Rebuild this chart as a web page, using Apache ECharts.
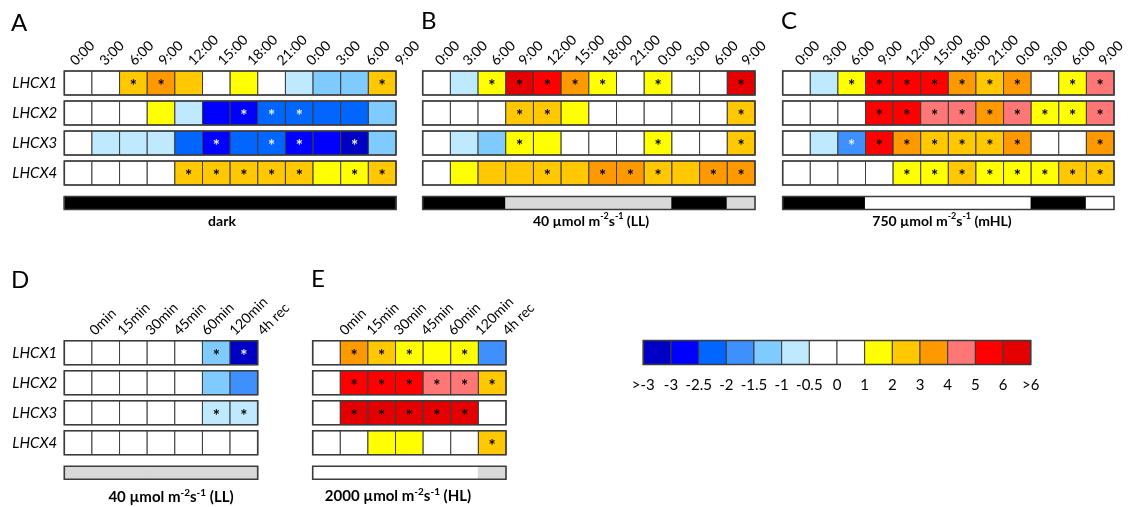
<!DOCTYPE html>
<html><head><meta charset="utf-8">
<script src="https://cdn.jsdelivr.net/npm/echarts@6/dist/echarts.min.js"></script>
<style>html,body{margin:0;padding:0;background:#fff}#c{width:1133px;height:507px}</style>
</head><body><div id="c"></div><script>
// ---------- DATA ----------
const genes = ['LHCX1','LHCX2','LHCX3','LHCX4'];
const timeLabels = ['0:00','3:00','6:00','9:00','12:00','15:00','18:00','21:00','0:00','3:00','6:00','9:00'];
const minLabels = ['0min','15min','30min','45min','60min','120min','4h rec'];

// estimated log2 fold changes (rows = genes)
const valuesA = [
  [0,0,2.5,3.5,2.5,0,1.5,0,-0.8,-1.3,-1.3,2.5],
  [0,0,0,1.5,-0.8,-2.8,-2.8,-2.3,-2.3,-2.3,-2.3,-1.3],
  [0,-0.8,-0.8,-0.8,-2.3,-2.8,-2.3,-2.3,-2.8,-2.8,-3.4,-1.3],
  [0,0,0,0,2.5,2.5,2.5,2.5,2.5,1.5,1.5,2.5]
];
const sigA = [
  [0,0,1,1,0,0,0,0,0,0,0,1],
  [0,0,0,0,0,0,1,1,1,0,0,0],
  [0,0,0,0,0,1,0,1,1,0,1,0],
  [0,0,0,0,1,1,1,1,1,0,1,1]
];
const valuesB = [
  [0,-0.8,1.5,6.5,5.5,3.5,1.5,0,1.5,0,0,6.5],
  [0,0,0,2.5,2.5,1.5,0,0,0,0,0,2.5],
  [0,-0.8,-1.3,1.5,1.5,0,0,0,1.5,0,0,2.5],
  [0,1.5,2.5,2.5,2.5,2.5,3.5,3.5,2.5,2.5,3.5,3.5]
];
const sigB = [
  [0,0,1,1,1,1,1,0,1,0,0,1],
  [0,0,0,1,1,0,0,0,0,0,0,1],
  [0,0,0,1,0,0,0,0,1,0,0,1],
  [0,0,0,0,1,0,1,1,1,0,1,1]
];
const valuesC = [
  [0,-0.8,1.5,5.5,5.5,5.5,3.5,2.5,3.5,0,1.5,4.5],
  [0,0,0,5.5,5.5,4.5,4.5,3.5,4.5,1.5,1.5,4.5],
  [0,-0.8,-1.8,5.5,3.5,2.5,2.5,2.5,3.5,0,0,3.5],
  [0,0,0,0,1.5,1.5,2.5,1.5,1.5,1.5,2.5,2.5]
];
const sigC = [
  [0,0,1,1,1,1,1,1,1,0,1,1],
  [0,0,0,1,1,1,1,1,1,1,1,1],
  [0,0,1,1,1,1,1,1,1,0,0,1],
  [0,0,0,0,1,1,1,1,1,1,1,1]
];
const valuesD = [
  [0,0,0,0,0,-1.3,-3.4],
  [0,0,0,0,0,-1.3,-1.8],
  [0,0,0,0,0,-0.8,-0.8],
  [0,0,0,0,0,0,0]
];
const sigD = [
  [0,0,0,0,0,1,1],
  [0,0,0,0,0,0,0],
  [0,0,0,0,0,1,1],
  [0,0,0,0,0,0,0]
];
const valuesE = [
  [0,3.5,2.5,1.5,1.5,1.5,-1.8],
  [0,5.5,5.5,5.5,4.5,4.5,2.5],
  [0,6.5,6.5,6.5,6.5,6.5,0],
  [0,0,1.5,1.5,0,0,2.5]
];
const sigE = [
  [0,1,1,1,0,1,0],
  [0,1,1,1,1,1,1],
  [0,1,1,1,1,1,0],
  [0,0,0,0,0,0,1]
];
// light regime per column: D = dark, L = low light, H = high light
const lightA = ['D','D','D','D','D','D','D','D','D','D','D','D'];
const lightB = ['D','D','D','L','L','L','L','L','L','D','D','L'];
const lightC = ['D','D','D','H','H','H','H','H','H','D','D','H'];
const lightD = ['L','L','L','L','L','L','L'];
const lightE = ['H','H','H','H','H','H','L'];

const legendBreaks = [-3,-2.5,-2,-1.5,-1,-0.5,0,1,2,3,4,5,6];
const legendColors = ['#0000c4','#0000ff','#0066ff','#3f90ff','#7fcbff','#bfe9ff','#ffffff','#ffffff','#ffff00','#ffc800','#ff9900','#ff7676','#ff0000','#e40000'];
const legendValues = [-3.4,-2.8,-2.3,-1.8,-1.3,-0.8,-0.25,0.5,1.5,2.5,3.5,4.5,5.5,6.5];
const legendLabels = ['>-3','-3','-2.5','-2','-1.5','-1','-0.5','0','1','2','3','4','5','6','>6'];

// ---------- STYLE / LAYOUT ----------
const FONT = 'Lato';
const lightColor = {D:'#000000', L:'#d9d9d9', H:'#ffffff'};
const BORDER = '#3c3c3c';

function classOf(v){ let k=0; for(const b of legendBreaks){ if(v>=b) k++; } return k; }
function colorOf(v){ return legendColors[classOf(v)]; }

function cellItem(ratio){
  return function(params, api){
    const x = api.value(0), y = api.value(1), v = api.value(2), s = api.value(3);
    const c = api.coord([x,y]); const sz = api.size([1,1]);
    const w = sz[0], h = sz[1]*ratio;
    const ch = [{type:'rect', shape:{x:c[0]-w/2, y:c[1]-h/2, width:w, height:h},
      style:{fill:colorOf(v), stroke:BORDER, lineWidth:1}}];
    if (s) ch.push({type:'text', x:c[0], y:c[1]+4,
      style:{text:'*', fill: classOf(v)<=3 ? '#e6eeff' : '#000', font:'bold 17px '+FONT, align:'center', verticalAlign:'middle'}});
    return {type:'group', children:ch};
  };
}
function lightItem(params, api){
  const x = api.value(0), y = api.value(1), k = api.value(2);
  const c = api.coord([x,y]); const sz = api.size([1,1]);
  const h = 13;
  return {type:'rect', shape:{x:c[0]-sz[0]/2-0.6, y:c[1]-h/2, width:sz[0]+1.2, height:h},
    style:{fill:lightColor[['D','L','H'][k]], lineWidth:0}};
}
function frameItem(n, ratio){
  return function(params, api){
    const r = api.value(1);
    const a = api.coord([0,r]), b = api.coord([n-1,r]); const sz = api.size([1,1]);
    const h = r===4 ? 13 : sz[1]*ratio;
    return {type:'rect', shape:{x:a[0]-sz[0]/2, y:a[1]-h/2, width:b[0]-a[0]+sz[0], height:h},
      style:{fill:'none', stroke:BORDER, lineWidth:1.6}};
  };
}
// rotated column labels, anchored at the label axis ticks
function tickLabelItem(labels){
  return function(params, api){
    const c = api.coord([api.value(0), api.value(1)]);
    return {type:'text', x:c[0], y:c[1]-5, rotation:Math.PI/4,
      style:{text:labels[params.dataIndex], font:'14px '+FONT, fill:'#000', align:'left', verticalAlign:'middle'}};
  };
}

const panels = [
  {vals:valuesA, sig:sigA, light:lightA, labels:timeLabels, ylab:true, grid:{left:64.3, top:68, width:331.7, height:150}, lab:{left:72.5, width:325}},
  {vals:valuesB, sig:sigB, light:lightB, labels:timeLabels, ylab:false, grid:{left:422.7, top:68, width:332.3, height:150}, lab:{left:437.5, width:306.5}},
  {vals:valuesC, sig:sigC, light:lightC, labels:timeLabels, ylab:false, grid:{left:782.7, top:68, width:331.3, height:150}, lab:{left:797.5, width:303.5}},
  {vals:valuesD, sig:sigD, light:lightD, labels:minLabels, ylab:true, grid:{left:64.3, top:337.7, width:193.4, height:150}, lab:{left:92, width:168}},
  {vals:valuesE, sig:sigE, light:lightE, labels:minLabels, ylab:false, grid:{left:312.7, top:337.7, width:193.3, height:150}, lab:{left:342, width:163}}
];

const grid=[], xAxis=[], yAxis=[], series=[];
panels.forEach((p,i)=>{
  const n = p.vals[0].length;
  const cats = p.vals[0].map((_,j)=>String(j));
  // cell grid
  const g = grid.length;
  grid.push(p.grid);
  const xi = xAxis.length, yi = yAxis.length;
  xAxis.push({type:'category', gridIndex:g, data:cats, show:false});
  yAxis.push({type:'category', gridIndex:g, data:genes.concat(['']), inverse:true,
    axisLine:{show:false}, axisTick:{show:false},
    axisLabel:{show:p.ylab, color:'#000', fontSize:15, fontStyle:'italic', fontFamily:FONT, margin:7}});
  const cells=[];
  p.vals.forEach((row,r)=>row.forEach((v,c)=>cells.push([c,r,v,p.sig[r][c]])));
  series.push({type:'custom', xAxisIndex:xi, yAxisIndex:yi, data:cells, renderItem:cellItem(0.8), z:2, silent:true, clip:false});
  series.push({type:'custom', xAxisIndex:xi, yAxisIndex:yi, data:p.light.map((k,c)=>[c,4,['D','L','H'].indexOf(k)]), renderItem:lightItem, z:2, silent:true, clip:false});
  series.push({type:'custom', xAxisIndex:xi, yAxisIndex:yi, data:[0,1,2,3,4].map(r=>[0,r]), renderItem:frameItem(n,0.8), z:3, silent:true, clip:false});
  // tick-label grid (labels spread between first and last tick)
  const gl = grid.length;
  grid.push({left:p.lab.left, width:p.lab.width, top:p.grid.top, height:p.grid.height});
  const lx = xAxis.length, ly = yAxis.length;
  xAxis.push({type:'category', gridIndex:gl, data:p.labels.map((_,j)=>String(j)), boundaryGap:false, show:false});
  yAxis.push({type:'value', gridIndex:gl, min:0, max:1, show:false});
  series.push({type:'custom', xAxisIndex:lx, yAxisIndex:ly, data:p.labels.map((_,j)=>[j,1]), renderItem:tickLabelItem(p.labels), z:4, silent:true, clip:false});
});
// legend colour bar
const gi = grid.length;
grid.push({left:643.3, top:340.5, width:387.4, height:24});
const lxi = xAxis.length, lyi = yAxis.length;
xAxis.push({type:'category', gridIndex:gi, data:legendValues.map((_,j)=>String(j)), show:false});
xAxis.push({type:'category', gridIndex:gi, data:legendLabels, position:'bottom', boundaryGap:false,
  axisLine:{show:false}, axisTick:{show:false},
  axisLabel:{interval:0, margin:13, color:'#000', fontSize:15, fontFamily:FONT}});
yAxis.push({type:'category', gridIndex:gi, data:[''], show:false});
series.push({type:'custom', xAxisIndex:lxi, yAxisIndex:lyi, data:legendValues.map((v,j)=>[j,0,v,0]), renderItem:cellItem(1), z:2, silent:true, clip:false});
series.push({type:'custom', xAxisIndex:lxi, yAxisIndex:lyi, data:[[0,0]], renderItem:frameItem(legendValues.length,1), z:3, silent:true, clip:false});

function letter(t,x,y){ return {type:'text', x:x, y:y, style:{text:t, font:'24px '+FONT, fill:'#000', align:'left', verticalAlign:'middle'}}; }
function cond(num, tag, x, y, fs){
  return {type:'text', x:x, y:y, style:{
    text: num ? '{n|'+num+' µmol m}{s|-2}{n|s}{s|-1}{n| '+tag+'}' : '{n|'+tag+'}',
    align:'center', verticalAlign:'middle',
    rich:{ n:{fontSize:fs, fontWeight:'bold', fontFamily:FONT, fill:'#000', lineHeight:fs+4},
           s:{fontSize:fs-5, fontWeight:'bold', fontFamily:FONT, fill:'#000', verticalAlign:'top', lineHeight:fs-4} }
  }};
}
const graphic = [
  letter('A',11,23), letter('B',421,21), letter('C',781,21), letter('D',11,280), letter('E',311,279),
  cond(null,'dark',222,221,14),
  cond('40','(LL)',591,221,14),
  cond('750','(mHL)',942,221,14),
  cond('40','(LL)',171,497,15),
  cond('2000','(HL)',398,496,15)
];

const chart = echarts.init(document.getElementById('c'));
chart.setOption({animation:false, backgroundColor:'#fff', grid, xAxis, yAxis, series, graphic});
</script></body></html>
